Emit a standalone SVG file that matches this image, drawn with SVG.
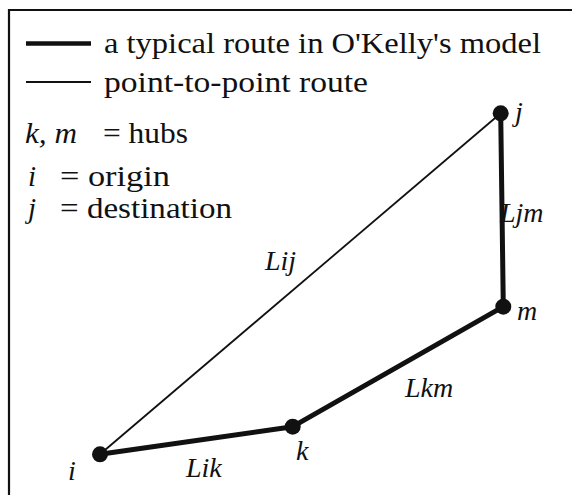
<svg xmlns="http://www.w3.org/2000/svg" width="572" height="495" viewBox="0 0 572 495">
<style>
text{font-family:"Liberation Serif","Times New Roman",serif;font-size:29px;fill:#111}
.it{font-style:italic}
.lbl{font-size:28px}
.thick{stroke:#111;stroke-width:5;fill:none;stroke-linecap:round}
.thin{stroke:#111;stroke-width:1.8;fill:none}
.node{fill:#111}
</style>
<rect x="0" y="0" width="572" height="495" fill="#fff"/>
<path d="M9 500 V10 H580" stroke="#111" stroke-width="2.2" fill="none"/>
<g id="legend">
<line x1="26" y1="43.5" x2="91" y2="43.5" stroke="#111" stroke-width="4.5"/>
<text x="104" y="53" textLength="437" lengthAdjust="spacingAndGlyphs">a typical route in O'Kelly's model</text>
<line x1="26" y1="82" x2="91" y2="82" stroke="#111" stroke-width="1.8"/>
<text x="104" y="92" textLength="264" lengthAdjust="spacingAndGlyphs">point-to-point route</text>
<text x="25" y="143" class="it" textLength="52" lengthAdjust="spacingAndGlyphs">k, m</text>
<text x="103" y="143" textLength="85" lengthAdjust="spacingAndGlyphs">= hubs</text>
<text x="28" y="186" class="it">i</text>
<text x="60" y="186" textLength="110" lengthAdjust="spacingAndGlyphs">= origin</text>
<text x="28" y="218" class="it">j</text>
<text x="60" y="218" textLength="172" lengthAdjust="spacingAndGlyphs">= destination</text>
</g>
<g id="connectors">
<line class="thin" x1="100" y1="454.3" x2="500.7" y2="113.3"/>
<line class="thick" x1="100" y1="454.3" x2="292.7" y2="426.7"/>
<line class="thick" x1="292.7" y1="426.7" x2="503.3" y2="306.7"/>
<line class="thick" x1="503.3" y1="306.7" x2="500.7" y2="113.3"/>
<text class="it lbl" x="265" y="270">Lij</text>
<text class="it lbl" x="500" y="222">Ljm</text>
<text class="it lbl" x="405" y="397">Lkm</text>
<text class="it lbl" x="186" y="477">Lik</text>
</g>
<g id="node-j"><circle class="node" cx="500.7" cy="113.3" r="8"/><text class="it lbl" x="515" y="121">j</text></g>
<g id="node-m"><circle class="node" cx="503.3" cy="306.7" r="8"/><text class="it lbl" x="517" y="320">m</text></g>
<g id="node-k"><circle class="node" cx="292.7" cy="426.7" r="8"/><text class="it lbl" x="296" y="460">k</text></g>
<g id="node-i"><circle class="node" cx="100" cy="454.3" r="8"/><text class="it lbl" x="68" y="480">i</text></g>
</svg>
